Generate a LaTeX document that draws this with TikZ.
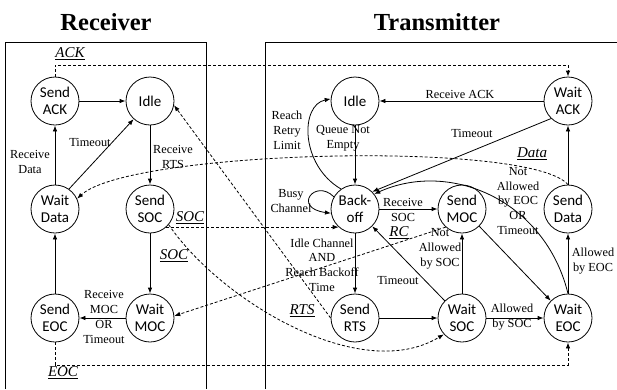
\documentclass[tikz,border=0pt]{standalone}
\usepackage{fontspec}
\setmainfont{Liberation Serif}
\newfontfamily\circfont{Carlito}
\usetikzlibrary{arrows.meta}
\tikzset{
  st/.style={circle,draw,line width=0.8pt,minimum size=48pt,inner sep=0pt,align=center,font=\circfont\fontsize{15}{17}\selectfont},
  lbl/.style={align=center,font=\fontsize{12.3}{14.8}\selectfont,inner sep=0pt},
  ulbl/.style={font=\fontsize{15}{17}\selectfont\itshape,inner sep=0pt},
  ttl/.style={font=\bfseries\fontsize{24.5}{28}\selectfont,inner sep=0pt},
  ar/.style={line width=0.8pt,-{Latex[length=6pt,width=4.5pt]}},
  dar/.style={ar,dash pattern=on 3pt off 2pt},
  boxline/.style={line width=0.9pt}
}
\begin{document}
\begin{tikzpicture}[x=1pt,y=-1pt]
\useasboundingbox (0,0) rectangle (617,389);
% frames
\draw[boxline] (5,389) -- (5,42) -- (206,42) -- (206,389);
\draw[boxline] (265,389) -- (265,42) -- (617,42);
\node[ttl] (trx) at (106,22) {Receiver};
\node[ttl] (ttx) at (437,22) {Transmitter};
% receiver states
\node[st] (sack) at (55,101) {Send\\ACK};
\node[st] (ridle) at (150,101) {Idle};
\node[st] (wdata) at (55,209) {Wait\\Data};
\node[st] (ssoc) at (150,209) {Send\\SOC};
\node[st] (seoc) at (55,318) {Send\\EOC};
\node[st] (wmoc) at (150,318) {Wait\\MOC};
% transmitter states
\node[st] (tidle) at (355,101) {Idle};
\node[st] (wack) at (568,101) {Wait\\ACK};
\node[st] (boff) at (355,209) {Back-\\off};
\node[st] (smoc) at (462,209) {Send\\MOC};
\node[st] (sdata) at (568,209) {Send\\Data};
\node[st] (srts) at (355,318) {Send\\RTS};
\node[st] (wsoc) at (462,318) {Wait\\SOC};
\node[st] (weoc) at (568,318) {Wait\\EOC};
\coordinate (ackline) at (0,65);
\coordinate (eocline) at (0,365);
% receiver edges
\draw[ar] (sack) -- (ridle);
\draw[ar] (wdata) -- (sack);
\draw[ar] (wdata.55) -- (ridle.228);
\draw[ar] (ridle) -- (ssoc);
\draw[ar] (ssoc) -- (wmoc);
\draw[ar] (wmoc) -- (seoc);
\draw[ar] (seoc) -- (wdata);
% dashed messages
\draw[dar] (sack.north) -- (sack.north |- ackline) -- (wack.north |- ackline) -- (wack.north);
\draw[dar] (seoc.south) -- (seoc.south |- eocline) -- (weoc.south |- eocline) -- (weoc.south);
\draw[dar] (ssoc.-48) -- (boff.-132);
\draw[dar] (ssoc.-40) .. controls (220,300) and (360,385) .. (wsoc.-138);
\draw[dar] (srts.west) -- (ridle.-10);
\draw[dar] (smoc.-132) -- (wmoc.5);
\draw[dar] (sdata.north) .. controls (530,140) and (130,150) .. (wdata.25);
% transmitter edges
\draw[ar] (wack) -- (tidle);
\draw[ar] (wack.-134) -- (boff.45);
\draw[ar] (tidle) -- (boff);
\draw[ar] (boff.125) .. controls (300,165) and (300,105) .. (tidle.175);
\draw[ar] (boff.150) .. controls (315,178) and (292,208) .. (boff.190);
\draw[ar] (boff) -- (smoc);
\draw[ar] (boff) -- (srts);
\draw[ar] (srts) -- (wsoc);
\draw[ar] (wsoc.135) -- (boff.-45);
\draw[ar] (wsoc) -- (smoc);
\draw[ar] (wsoc) -- (weoc);
\draw[ar] (smoc.-45) -- (weoc.135);
\draw[ar] (weoc) -- (sdata);
\draw[ar] (sdata) -- (wack);
\draw[ar] (weoc.north) .. controls (545,200) and (450,160) .. (boff.38);
% labels
\node[lbl] (l1) at (30,162) {Receive\\Data};
\node[lbl] (l2) at (90,142) {Timeout};
\node[lbl] (l3) at (173,157) {Receive\\RTS};
\node[lbl] (l4) at (104,317) {Receive\\MOC\\OR\\Timeout};
\node[lbl] (l5) at (460,94) {Receive ACK};
\node[lbl] (l6) at (472,133) {Timeout};
\node[lbl] (l7) at (343,138) {Queue Not\\Empty};
\node[lbl] (l8) at (287,130) {Reach\\Retry\\Limit};
\node[lbl] (l9) at (291,201) {Busy\\Channel};
\node[lbl] (l10) at (403,210) {Receive\\SOC};
\node[lbl] (l11) at (322,265) {Idle Channel\\AND\\Reach Backoff\\Time};
\node[lbl] (l12) at (398,280) {Timeout};
\node[lbl] (l13) at (440,249) {Not\\Allowed\\by SOC};
\node[lbl] (l14) at (512,317) {Allowed\\by SOC};
\node[lbl] (l15) at (593,261) {Allowed\\by EOC};
\node[lbl] (l16) at (518,201) {Not\\Allowed\\by EOC\\OR\\Timeout};
% underlined message labels
\node[ulbl] (u1) at (70,54) {\underline{ACK}};
\node[ulbl] (u2) at (63,373) {\underline{EOC}};
\node[ulbl] (u3) at (190,218) {\underline{SOC}};
\node[ulbl] (u4) at (174,256) {\underline{SOC}};
\node[ulbl] (u5) at (302,311) {\underline{RTS}};
\node[ulbl] (u6) at (399,233) {\underline{RC}};
\node[ulbl] (u7) at (532,154) {\underline{Data}};
\end{tikzpicture}
\end{document}
